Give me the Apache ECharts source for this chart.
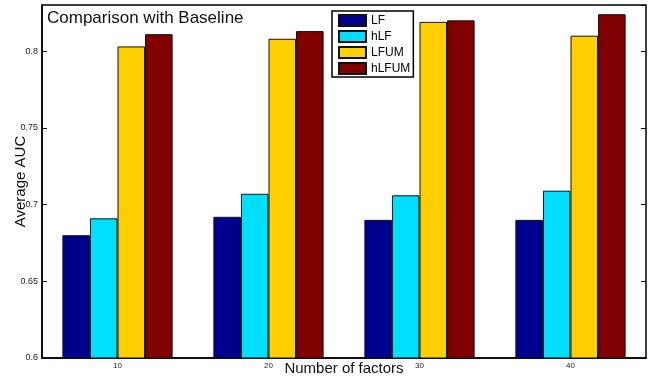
<!DOCTYPE html>
<html>
<head>
<meta charset="utf-8">
<script src="https://cdn.jsdelivr.net/npm/echarts@6/dist/echarts.min.js"></script>
<style>
    html, body { margin: 0; padding: 0; background: #fff; }
    #chart { width: 654px; height: 377px; }
</style>
</head>
<body>
<div id="chart"></div>
<script>
"use strict";

var factors = ['10', '20', '30', '40'];
var seriesNames = ['LF', 'hLF', 'LFUM', 'hLFUM'];
var lfValues = [0.680, 0.692, 0.690, 0.690];
var hlfValues = [0.691, 0.707, 0.706, 0.709];
var lfumValues = [0.803, 0.808, 0.819, 0.810];
var hlfumValues = [0.811, 0.813, 0.820, 0.824];
var colors = ['#00008f', '#00dfff', '#ffcf00', '#800000'];

var font = 'Liberation Sans, Arial, Helvetica, sans-serif';
var allValues = [lfValues, hlfValues, lfumValues, hlfumValues];

var chart = echarts.init(document.getElementById('chart'));

var series = seriesNames.map(function (name, i) {
    return {
        name: name,
        type: 'bar',
        data: allValues[i],
        barGap: '0%',
        barCategoryGap: '27%',
        itemStyle: {
            color: colors[i],
            borderColor: '#111',
            borderWidth: 1
        }
    };
});

chart.setOption({
    animation: false,
    textStyle: { fontFamily: font },
    title: {
        text: 'Comparison with Baseline',
        left: 47,
        top: 10,
        padding: 0,
        textStyle: {
            fontFamily: font,
            fontSize: 17,
            fontWeight: 'normal',
            color: '#111'
        }
    },
    legend: {
        orient: 'vertical',
        left: 332,
        top: 11,
        data: seriesNames,
        icon: 'rect',
        itemWidth: 27,
        itemHeight: 11,
        itemGap: 3,
        itemTextGap: 2,
        padding: [3, 3, 2, 6],
        backgroundColor: '#fff',
        borderColor: '#000',
        borderWidth: 1.5,
        borderRadius: 0,
        textStyle: {
            fontFamily: font,
            fontSize: 12,
            color: '#000'
        }
    },
    grid: {
        left: 42,
        right: 8,
        top: 5,
        bottom: 19,
        show: true,
        borderColor: '#000',
        borderWidth: 1.5,
        containLabel: false,
        outerBoundsMode: 'none'
    },
    xAxis: [{
        type: 'category',
        data: factors,
        name: 'Number of factors',
        nameLocation: 'middle',
        nameGap: 3,
        nameMoveOverlap: false,
        nameTextStyle: { fontSize: 15, color: '#111', verticalAlign: 'top' },
        axisLine: { lineStyle: { color: '#000', width: 1.5 } },
        axisTick: { inside: true, alignWithLabel: true, length: 5, lineStyle: { color: '#000' } },
        axisLabel: { fontSize: 8, color: '#222', margin: 4 }
    }, {
        type: 'category',
        data: factors,
        position: 'top',
        axisLine: { show: false },
        axisTick: { inside: true, alignWithLabel: true, length: 5, lineStyle: { color: '#000' } },
        axisLabel: { show: false }
    }],
    yAxis: [{
        type: 'value',
        min: 0.6,
        max: 0.83,
        interval: 0.05,
        name: 'Average AUC',
        nameLocation: 'middle',
        nameGap: 14,
        nameMoveOverlap: false,
        nameTextStyle: { fontSize: 15, color: '#111' },
        axisLine: { show: true, lineStyle: { color: '#000', width: 1.5 } },
        axisTick: { show: true, inside: true, length: 5, lineStyle: { color: '#000' } },
        axisLabel: { fontSize: 9, color: '#222', margin: 4, showMaxLabel: false },
        splitLine: { show: false }
    }, {
        type: 'value',
        min: 0.6,
        max: 0.83,
        interval: 0.05,
        position: 'right',
        axisLine: { show: false },
        axisTick: { show: true, inside: true, length: 5, lineStyle: { color: '#000' } },
        axisLabel: { show: false },
        splitLine: { show: false }
    }],
    series: series
});
</script>
</body>
</html>
